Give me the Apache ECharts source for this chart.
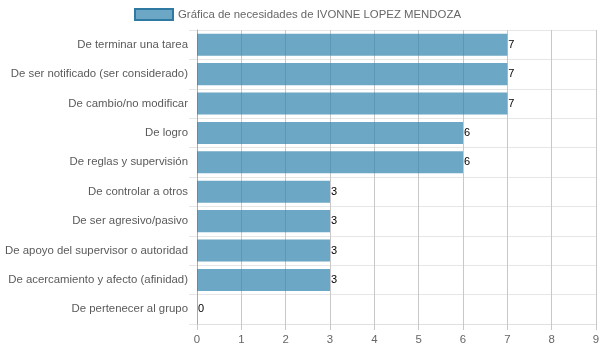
<!DOCTYPE html>
<html>
<head>
<meta charset="utf-8">
<script src="https://cdn.jsdelivr.net/npm/echarts@6/dist/echarts.min.js"></script>
<style>
  html, body { margin: 0; padding: 0; background: #fff; }
  #chart { width: 602px; height: 351px; }
</style>
</head>
<body>
<div id="chart"></div>
<script>
var seriesName = 'Gráfica de necesidades de IVONNE LOPEZ MENDOZA';
var categories = [
  'De terminar una tarea',
  'De ser notificado (ser considerado)',
  'De cambio/no modificar',
  'De logro',
  'De reglas y supervisión',
  'De controlar a otros',
  'De ser agresivo/pasivo',
  'De apoyo del supervisor o autoridad',
  'De acercamiento y afecto (afinidad)',
  'De pertenecer al grupo'
];
var values = [7, 7, 7, 6, 6, 3, 3, 3, 3, 0];

var myChart = echarts.init(document.getElementById('chart'));
var option = {
  animation: false,
  textStyle: { fontFamily: 'Liberation Sans, Arial, sans-serif' },
  legend: {
    data: [{
      name: seriesName,
      icon: 'rect',
      itemStyle: { color: 'rgba(108,167,197,1)', borderColor: '#2f7aa3', borderWidth: 2 }
    }],
    top: 3,
    left: 129,
    itemWidth: 38,
    itemHeight: 11,
    itemGap: 6,
    textStyle: { color: '#666', fontSize: 11.4 }
  },
  grid: { left: 197, right: 6, top: 30, bottom: 27, outerBoundsMode: 'none', containLabel: false },
  xAxis: {
    type: 'value',
    min: 0,
    max: 9,
    interval: 1,
    axisLine: { show: true, lineStyle: { color: '#e0e0e0' } },
    axisTick: { show: true, length: 6, lineStyle: { color: '#c8c8c8' } },
    axisLabel: { color: '#666', fontSize: 11.4, margin: 10 },
    splitLine: { show: true, lineStyle: { color: '#c8c8c8' } }
  },
  yAxis: {
    type: 'category',
    inverse: true,
    data: categories,
    axisLine: { show: true, lineStyle: { color: '#aaa' } },
    axisTick: { show: true, length: 8, lineStyle: { color: '#e6e6e6' } },
    axisLabel: { color: '#5a5a5a', fontSize: 11.4, margin: 9 },
    splitLine: { show: true, lineStyle: { color: '#e6e6e6' } }
  },
  series: [
    {
      name: seriesName,
      type: 'bar',
      data: values,
      barWidth: '75%',
      itemStyle: { color: 'rgba(45,129,172,0.7)' },
      label: {
        show: true,
        position: 'right',
        distance: 1,
        color: '#000',
        fontSize: 11
      }
    }
  ]
};
myChart.setOption(option);
window.addEventListener('resize', function () {
  myChart.resize();
});
</script>
</body>
</html>
